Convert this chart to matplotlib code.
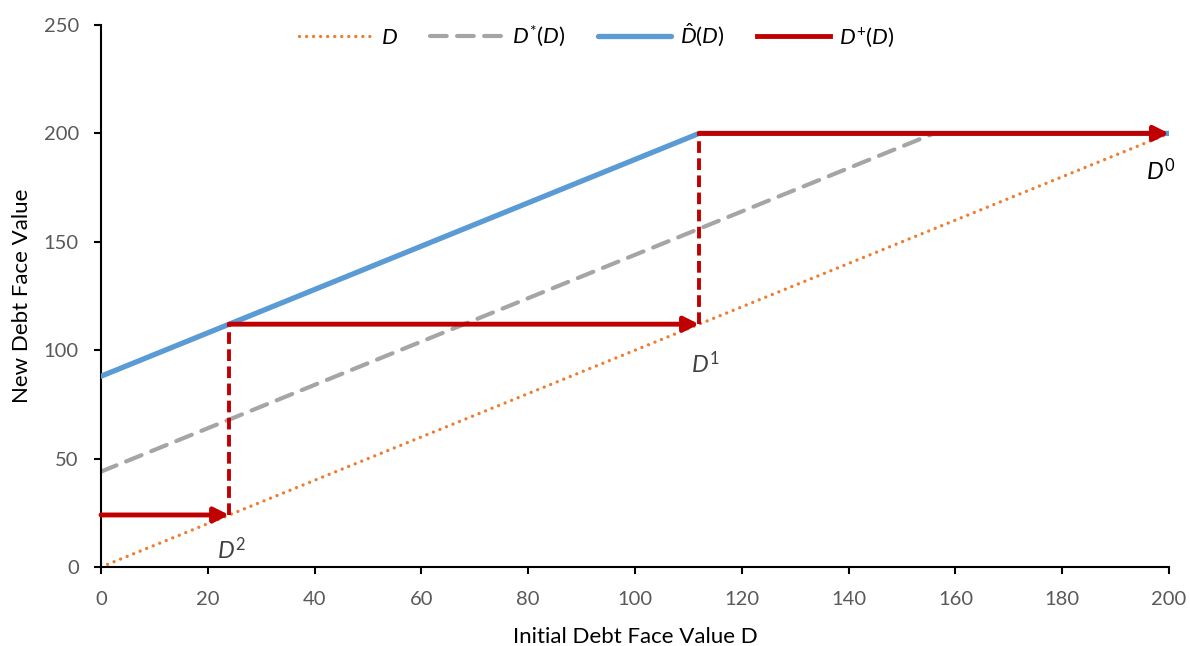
import matplotlib
matplotlib.use("Agg")
import matplotlib.pyplot as plt

plt.rcParams['font.family'] = ['Lato', 'DejaVu Sans']
plt.rcParams['mathtext.fontset'] = 'custom'
plt.rcParams['mathtext.rm'] = 'Lato'
plt.rcParams['mathtext.it'] = 'Lato:italic'

# data
diag_x = [0, 200]
diag_y = [0, 200]
dstar_x = [0, 156, 200]
dstar_y = [44, 200, 200]
dhat_x = [0, 112, 200]
dhat_y = [88, 200, 200]
# D+ iteration: horizontal moves (arrows) and vertical jumps (dashed)
step_h = [((0, 24), (24, 24)), ((24, 112), (112, 112)), ((112, 200), (200, 200))]
step_v = [((24, 24), (24, 112)), ((112, 112), (112, 200))]
point_labels = ['$D^0$', '$D^1$', '$D^2$']
point_xy = [(200, 200), (112, 112), (24, 24)]

orange = '#ED7D31'
grey = '#A5A5A5'
blue = '#5B9BD5'
red = '#C00000'
tickcol = '#595959'

fig = plt.figure(figsize=(11.9, 6.46), dpi=100)
ax = fig.add_axes([0.0849, 0.1223, 0.8975, 0.839])

ax.plot(diag_x, diag_y, color=orange, lw=2.4, linestyle=(0, (0.01, 2.1)),
        dash_capstyle='round', label='$D$', zorder=2)
ax.plot(dstar_x, dstar_y, color=grey, lw=3, linestyle=(0, (4, 2.5)),
        dash_capstyle='round', label='$D^{*}(D)$', zorder=2)
ax.plot(dhat_x, dhat_y, color=blue, lw=3.8, label=r'$\hat{D}(D)$', zorder=3,
        solid_capstyle='round')
ax.plot([], [], color=red, lw=3.5, label='$D^{+}(D)$')

for (p0, p1) in step_v:
    ax.plot([p0[0], p1[0]], [p0[1], p1[1]], color=red, lw=2.8,
            linestyle=(0, (3, 1.4)), zorder=4)
for (p0, p1) in step_h:
    ax.annotate('', xy=(p1[0], p1[1]), xytext=(p0[0], p0[1]),
                arrowprops=dict(arrowstyle='-|>', color=red, lw=3.5,
                                mutation_scale=22, shrinkA=0, shrinkB=0),
                zorder=5)

ax.text(point_xy[0][0] - 1.5, point_xy[0][1] - 17, point_labels[0], fontsize=17,
        ha='center', va='center', color='black')
ax.text(point_xy[1][0] + 1.2, point_xy[1][1] - 18, point_labels[1], fontsize=17,
        ha='center', va='center', color='#404040')
ax.text(point_xy[2][0] + 0.5, point_xy[2][1] - 16, point_labels[2], fontsize=17,
        ha='center', va='center', color='#404040')

ax.set_xlim(0, 200)
ax.set_ylim(0, 250)
ax.set_xticks(range(0, 201, 20))
ax.set_yticks(range(0, 251, 50))
ax.spines['top'].set_visible(False)
ax.spines['right'].set_visible(False)
ax.spines['left'].set_linewidth(1.5)
ax.spines['bottom'].set_linewidth(1.5)
ax.tick_params(direction='out', length=5, width=1.5, labelsize=14.5, colors='black',
               labelcolor=tickcol)
ax.tick_params(axis='x', pad=12.5)
ax.tick_params(axis='y', pad=11)
ax.set_xlabel('Initial Debt Face Value D', fontsize=16, labelpad=13.5)
ax.set_ylabel('New Debt Face Value', fontsize=16, labelpad=8.5)

ax.legend(loc='center', bbox_to_anchor=(0.464, 0.98), ncol=4, frameon=False,
          fontsize=16, handlelength=3.3, columnspacing=1.45, handletextpad=0.4)

fig.savefig('out.png', dpi=100)
